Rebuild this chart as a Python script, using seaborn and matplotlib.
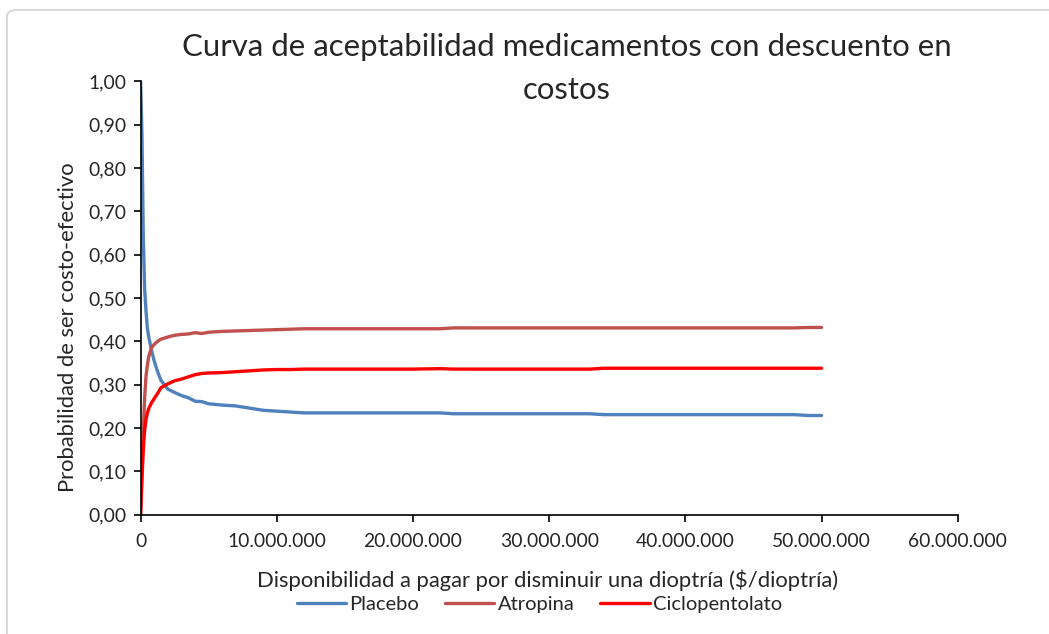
import matplotlib
matplotlib.use("Agg")
import matplotlib.pyplot as plt
import matplotlib.ticker as mticker
from matplotlib.patches import FancyBboxPatch
import seaborn as sb
import pandas as pd

# Datos (x en millones de $)
disponibilidad = [0, 0.1, 0.2, 0.3, 0.4, 0.5, 0.6, 0.8, 1.0, 1.25, 1.5, 2, 2.5, 3, 3.5, 4, 4.5,
                  5, 6, 7, 8, 9, 10, 11, 12, 13, 15, 20, 22, 23, 30, 33, 34, 40, 48, 49, 50]
placebo = [1.00, 0.88, 0.64, 0.52, 0.47, 0.43, 0.41, 0.38, 0.355, 0.33, 0.31, 0.29, 0.282, 0.275,
           0.27, 0.262, 0.261, 0.256, 0.253, 0.251, 0.246, 0.241, 0.239, 0.237, 0.235, 0.235,
           0.235, 0.235, 0.235, 0.233, 0.233, 0.233, 0.231, 0.231, 0.231, 0.229, 0.229]
atropina = [0.00, 0.10, 0.19, 0.27, 0.32, 0.345, 0.365, 0.385, 0.393, 0.400, 0.405, 0.410, 0.414,
            0.416, 0.417, 0.420, 0.418, 0.421, 0.423, 0.424, 0.425, 0.426, 0.427, 0.428, 0.429,
            0.429, 0.429, 0.429, 0.429, 0.431, 0.431, 0.431, 0.431, 0.431, 0.431, 0.432, 0.432]
ciclopentolato = [0.00, 0.08, 0.15, 0.195, 0.22, 0.235, 0.245, 0.258, 0.268, 0.28, 0.293, 0.302,
                  0.309, 0.313, 0.318, 0.323, 0.326, 0.327, 0.328, 0.330, 0.332, 0.334, 0.335,
                  0.335, 0.336, 0.336, 0.336, 0.336, 0.337, 0.336, 0.336, 0.336, 0.338, 0.338,
                  0.338, 0.338, 0.338]
series = ["Placebo", "Atropina", "Ciclopentolato"]
colores = ["#4F81BD", "#C0504D", "#FF0000"]

rows = []
for nombre, vals in zip(series, [placebo, atropina, ciclopentolato]):
    for x, y in zip(disponibilidad, vals):
        rows.append({"x": x * 1e6, "y": y, "serie": nombre})
df = pd.DataFrame(rows)

sb.set_style("white")
plt.rcParams['font.family'] = ['Lato', 'DejaVu Sans']

fig = plt.figure(figsize=(10.49, 6.34), dpi=100)
ax = fig.add_axes([0.134, 0.188, 0.779, 0.684])

sb.lineplot(data=df, x="x", y="y", hue="serie", palette=colores, linewidth=2.4, ax=ax,
            estimator=None, sort=False)

ax.set_xlim(0, 60e6)
ax.set_ylim(0, 1)
ax.xaxis.set_major_locator(mticker.MultipleLocator(10e6))
ax.yaxis.set_major_locator(mticker.MultipleLocator(0.1))
ax.xaxis.set_major_formatter(mticker.FuncFormatter(lambda v, p: f"{v:,.0f}".replace(",", ".")))
ax.yaxis.set_major_formatter(mticker.FuncFormatter(lambda v, p: f"{v:.2f}".replace(".", ",")))
ax.tick_params(axis="both", labelsize=13.9, length=5, width=1.2, color="black", direction="out",
               left=True, bottom=True)
ax.tick_params(axis="x", pad=8)
ax.tick_params(axis="y", pad=5)
for s in ["top", "right"]:
    ax.spines[s].set_visible(False)
for s in ["left", "bottom"]:
    ax.spines[s].set_color("black")
    ax.spines[s].set_linewidth(1.2)

ax.set_xlabel("Disponibilidad a pagar por disminuir una dioptría ($/dioptría)", fontsize=15.8)
ax.set_ylabel("Probabilidad de ser costo-efectivo", fontsize=15.8)
ax.xaxis.set_label_coords(0.498, -0.125)
ax.yaxis.set_label_coords(-0.077, 0.433)

fig.text(0.54, 0.926, "Curva de aceptabilidad medicamentos con descuento en", ha="center",
         va="center", fontsize=22.4)
fig.text(0.54, 0.858, "costos", ha="center", va="center", fontsize=22.4)

ax.legend(loc="center", bbox_to_anchor=(0.488, -0.207), ncol=3, frameon=False, fontsize=14.5,
          handlelength=2.45, handletextpad=0.15, columnspacing=1.3, borderaxespad=0)

borde = FancyBboxPatch((7 / 1049, -0.05), 1.2, 1.05 - 10 / 634, boxstyle="round,pad=0,rounding_size=0.01",
                       transform=fig.transFigure, fill=False, edgecolor="#D9D9D9", linewidth=1.5)
fig.patches.append(borde)

fig.savefig("out.png", dpi=100)
